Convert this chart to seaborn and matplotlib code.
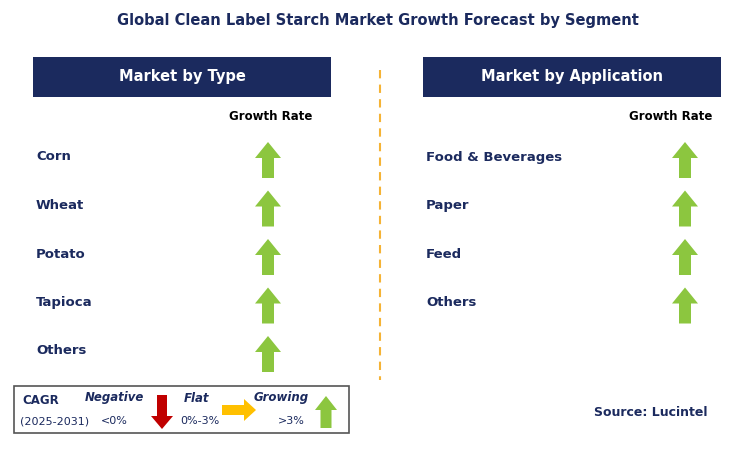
import matplotlib
matplotlib.use("Agg")
import matplotlib.pyplot as plt
from matplotlib.patches import Rectangle, Polygon
import seaborn as sns

sns.set_theme(style="white")

title = "Global Clean Label Starch Market Growth Forecast by Segment"
type_categories = ["Corn", "Wheat", "Potato", "Tapioca", "Others"]
type_growth = ["Growing", "Growing", "Growing", "Growing", "Growing"]
app_categories = ["Food & Beverages", "Paper", "Feed", "Others"]
app_growth = ["Growing", "Growing", "Growing", "Growing"]

NAVY = "#1B2A5E"
GREEN = "#8CC63F"
RED = "#C00000"
YELLOW = "#FFC000"
ORANGE = "#F5B335"

W, H = 736, 451
fig = plt.figure(figsize=(W/100, H/100), dpi=100)
ax = fig.add_axes([0, 0, 1, 1])
ax.set_xlim(0, W); ax.set_ylim(H, 0); ax.axis("off")

def up_arrow(cx, cy, color=GREEN, h=36, w=26, sw=12, hh=16):
    top = cy - h/2; bot = cy + h/2
    pts = [(cx, top), (cx + w/2, top + hh), (cx + sw/2, top + hh), (cx + sw/2, bot),
           (cx - sw/2, bot), (cx - sw/2, top + hh), (cx - w/2, top + hh)]
    ax.add_patch(Polygon(pts, closed=True, color=color, lw=0))

def down_arrow(cx, cy, color=RED, h=34, w=22, sw=10, hh=13):
    top = cy - h/2; bot = cy + h/2
    pts = [(cx, bot), (cx + w/2, bot - hh), (cx + sw/2, bot - hh), (cx + sw/2, top),
           (cx - sw/2, top), (cx - sw/2, bot - hh), (cx - w/2, bot - hh)]
    ax.add_patch(Polygon(pts, closed=True, color=color, lw=0))

def right_arrow(cx, cy, color=YELLOW, L=34, hw=22, sw=10, hl=12):
    l = cx - L/2; r = cx + L/2
    pts = [(r, cy), (r - hl, cy - hw/2), (r - hl, cy - sw/2), (l, cy - sw/2),
           (l, cy + sw/2), (r - hl, cy + sw/2), (r - hl, cy + hw/2)]
    ax.add_patch(Polygon(pts, closed=True, color=color, lw=0))

def arrow_for(g, cx, cy):
    if g == "Growing": up_arrow(cx, cy)
    elif g == "Negative": down_arrow(cx, cy)
    else: right_arrow(cx, cy)

ax.text(378, 21, title, ha="center", va="center", fontsize=10.5, fontweight="bold", color=NAVY)

for x0, label, cats, grs, ax_x, gx in [(33, "Market by Type", type_categories, type_growth, 268, 271),
                                      (423, "Market by Application", app_categories, app_growth, 685, 671)]:
    ax.add_patch(Rectangle((x0, 57), 298, 40, color=NAVY, lw=0))
    ax.text(x0 + 149, 77, label, ha="center", va="center", fontsize=10.5, fontweight="bold", color="white")
    ax.text(gx, 117, "Growth Rate", ha="center", va="center", fontsize=8.5, fontweight="bold", color="black")
    for i, (c, g) in enumerate(zip(cats, grs)):
        y = 157 + i * 48.5
        ax.text(x0 + 3, y, c, ha="left", va="center", fontsize=9.5, fontweight="bold", color=NAVY)
        arrow_for(g, ax_x, y + 3)

ax.plot([380, 380], [70, 380], ls=(0, (4, 3)), color=ORANGE, lw=1.5)

# legend
ax.add_patch(Rectangle((14, 386), 335, 47, fill=False, ec="#555555", lw=1.2))
ax.text(22, 400, "CAGR", fontsize=8.5, fontweight="bold", color=NAVY, va="center")
ax.text(20, 421, "(2025-2031)", fontsize=8, color=NAVY, va="center")
ax.text(114, 398, "Negative", fontsize=8.5, fontweight="bold", style="italic", color=NAVY, va="center", ha="center")
ax.text(114, 421, "<0%", fontsize=8, color=NAVY, va="center", ha="center")
down_arrow(162, 412)
ax.text(197, 398, "Flat", fontsize=8.5, fontweight="bold", style="italic", color=NAVY, va="center", ha="center")
ax.text(200, 421, "0%-3%", fontsize=8, color=NAVY, va="center", ha="center")
right_arrow(239, 410)
ax.text(281, 398, "Growing", fontsize=8.5, fontweight="bold", style="italic", color=NAVY, va="center", ha="center")
ax.text(291, 421, ">3%", fontsize=8, color=NAVY, va="center", ha="center")
up_arrow(326, 412, h=32, w=22, sw=11, hh=14)

ax.text(708, 412, "Source: Lucintel", ha="right", va="center", fontsize=9, fontweight="bold", color=NAVY)

fig.savefig("out.png", dpi=100)
